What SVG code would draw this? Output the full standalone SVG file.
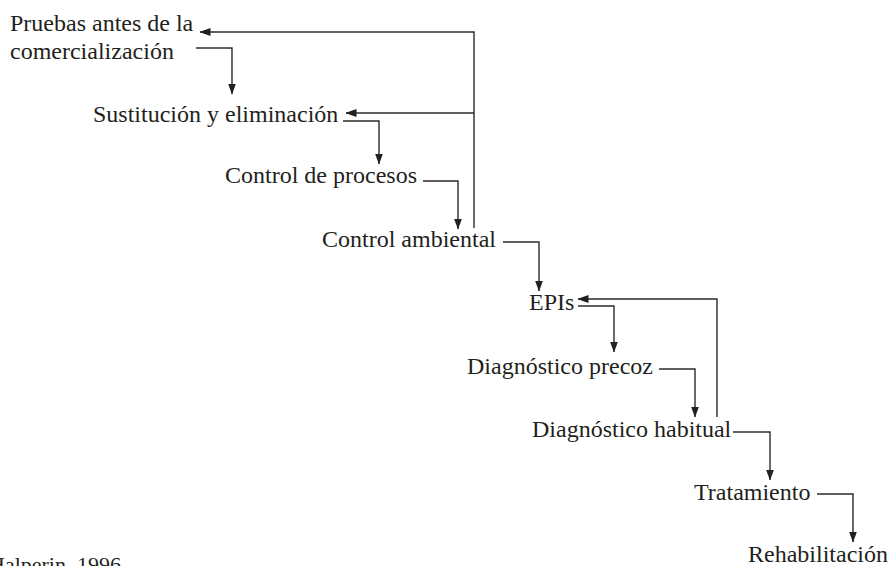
<svg xmlns="http://www.w3.org/2000/svg" width="891" height="566" viewBox="0 0 891 566">
  <style>
    .t { font-family: "Liberation Serif", "Times New Roman", serif; font-size: 24px; fill: #231f20; }
    .src { font-family: "Liberation Serif", "Times New Roman", serif; font-size: 22px; fill: #231f20; }
    .c { fill: none; stroke: #2b2b2b; stroke-width: 1.4; }
  </style>
  <defs>
    <marker id="ah" markerUnits="userSpaceOnUse" markerWidth="11" markerHeight="8" refX="10.5" refY="4" orient="auto">
      <path d="M0,0 L11,4 L0,8 Z" fill="#231f20"/>
    </marker>
  </defs>
  <rect width="891" height="566" fill="#ffffff"/>

  <g id="connectors">
    <path class="c" d="M474,228 V32 H200" marker-end="url(#ah)"/>
    <path class="c" d="M474,113 H346" marker-end="url(#ah)"/>
    <path class="c" d="M196,48 H232 V94" marker-end="url(#ah)"/>
    <path class="c" d="M343,121 H379 V164" marker-end="url(#ah)"/>
    <path class="c" d="M423,181 H458 V229" marker-end="url(#ah)"/>
    <path class="c" d="M503,242 H539 V291" marker-end="url(#ah)"/>
    <path class="c" d="M717,417 V299 H578" marker-end="url(#ah)"/>
    <path class="c" d="M578,306 H614 V352" marker-end="url(#ah)"/>
    <path class="c" d="M659,369 H695 V417" marker-end="url(#ah)"/>
    <path class="c" d="M733,432 H770 V480" marker-end="url(#ah)"/>
    <path class="c" d="M817,494 H853 V542" marker-end="url(#ah)"/>
  </g>

  <g id="n-pruebas">
    <text class="t" x="10" y="31">Pruebas antes de la</text>
    <text class="t" x="10" y="59">comercialización</text>
  </g>
  <g id="n-sustitucion"><text class="t" x="93" y="122">Sustitución y eliminación</text></g>
  <g id="n-procesos"><text class="t" x="225" y="183">Control de procesos</text></g>
  <g id="n-ambiental"><text class="t" x="322" y="247">Control ambiental</text></g>
  <g id="n-epis"><text class="t" x="529" y="310">EPIs</text></g>
  <g id="n-precoz"><text class="t" x="467" y="374">Diagnóstico precoz</text></g>
  <g id="n-habitual"><text class="t" x="532" y="437">Diagnóstico habitual</text></g>
  <g id="n-tratamiento"><text class="t" x="694" y="500">Tratamiento</text></g>
  <g id="n-rehabilitacion"><text class="t" x="748" y="562">Rehabilitación</text></g>
  <g id="source"><text class="src" x="-11" y="572">Halperin, 1996</text></g>
</svg>
